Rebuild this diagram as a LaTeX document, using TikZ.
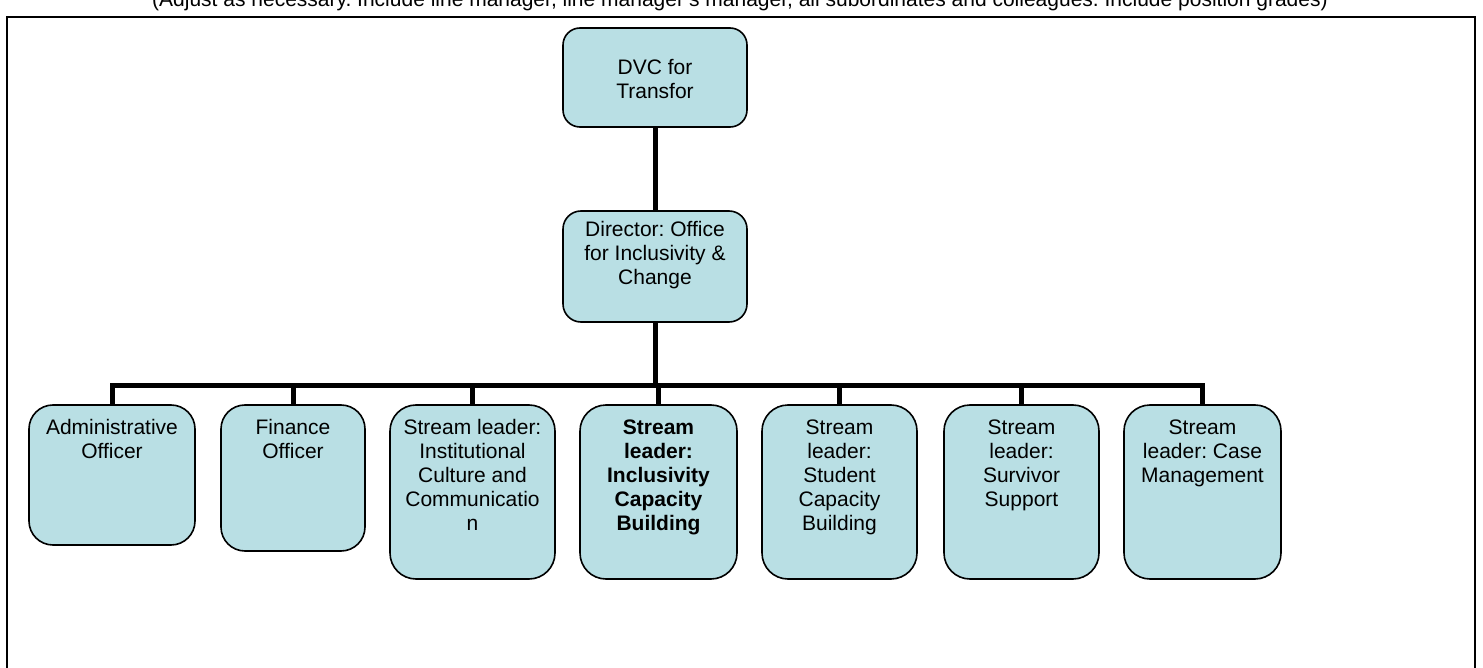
\documentclass[tikz,border=0pt]{standalone}
\usepackage{fontspec}
\setmainfont{Liberation Sans}
\frenchspacing
\definecolor{boxfill}{RGB}{185,223,228}
% #1 width, #2 height, #3 offset of first baseline below top, #4 text
\newcommand{\bxt}[4]{\parbox[c][#2pt][t]{#1pt}{\centering\rule{0pt}{#3pt}#4}}
\begin{document}
\begin{tikzpicture}[x=1pt,y=-1pt,
  orgbox/.style={draw=black, line width=1.6pt, fill=boxfill, inner sep=0pt, outer sep=0pt,
    font=\fontsize{21pt}{24pt}\selectfont},
  conn/.style={line width=5pt, draw=black, line join=miter},
  frameline/.style={line width=2.2pt, draw=black},
  hdr/.style={font=\fontsize{21pt}{24pt}\selectfont, inner sep=0pt}]
\useasboundingbox (0,0) rectangle (1483,668);
\clip (0,0) rectangle (1483,668);

% header (clipped at top) and frame
\node[hdr, anchor=base] (hdr) at (740,7) {(Adjust as necessary. Include line manager, line manager's manager, all subordinates and colleagues. Include position grades)};
\draw[frameline] (7,720) -- (7,17) -- (1475,17) -- (1475,720);

% boxes
\node[orgbox, rounded corners=17pt] (dvc) at (655,77.5) {\bxt{184}{99}{47}{DVC for\\Transfor}};
\node[orgbox, rounded corners=18pt] (dir) at (655,266.5) {\bxt{184}{111}{26}{Director: Office\\for Inclusivity \&\\Change}};

\node[orgbox, rounded corners=24pt] (adm) at (112,475) {\bxt{166}{140}{29}{Administrative\\Officer}};
\node[orgbox, rounded corners=24pt] (fin) at (293,478) {\bxt{144}{146}{29}{Finance\\Officer}};
\node[orgbox, rounded corners=26pt] (icc) at (472.5,492) {\bxt{165}{174}{29}{Stream leader:\\Institutional\\Culture and\\Communicatio\\n}};
\node[orgbox, rounded corners=26pt] (icb) at (658.5,492) {\bxt{157}{174}{29}{\bfseries Stream\\leader:\\Inclusivity\\Capacity\\Building}};
\node[orgbox, rounded corners=26pt] (scb) at (839.5,492) {\bxt{155}{174}{29}{Stream\\leader:\\Student\\Capacity\\Building}};
\node[orgbox, rounded corners=26pt] (ss) at (1021.5,492) {\bxt{155}{174}{29}{Stream\\leader:\\Survivor\\Support}};
\node[orgbox, rounded corners=26pt] (cm) at (1202.5,492) {\bxt{157}{174}{29}{Stream\\leader: Case\\Management}};

% connectors
\coordinate (busy) at (0,385);
\draw[conn] (dvc.south) -- (dir.north);
\draw[conn] (dir.south) -- (dir.south |- busy);
\draw[conn] (adm.north) -- (adm.north |- busy) -- (cm.north |- busy) -- (cm.north);
\draw[conn] (fin.north) -- (fin.north |- busy);
\draw[conn] (icc.north) -- (icc.north |- busy);
\draw[conn] (icb.north) -- (icb.north |- busy);
\draw[conn] (scb.north) -- (scb.north |- busy);
\draw[conn] (ss.north) -- (ss.north |- busy);
\end{tikzpicture}
\end{document}
